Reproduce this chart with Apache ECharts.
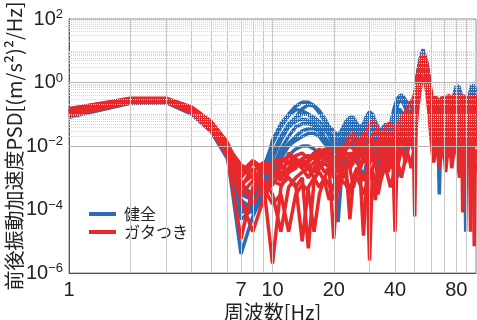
<!DOCTYPE html>
<html>
<head>
<meta charset="utf-8">
<script src="https://cdn.jsdelivr.net/npm/echarts@6/dist/echarts.min.js"></script>
<style>
  html, body { margin: 0; padding: 0; background: #ffffff; }
  #chart { width: 477px; height: 320px; }
</style>
</head>
<body>
<div id="chart"></div>
<script>
// Frequency bins of the PSD estimates [Hz]
const freqHz = [
  1,2,3,4,5,6,7,8,9,10, 11,12,13,14,15,16,17,18,19,20,
  21,22,23,24,25,26,27,28,29,30, 31,32,33,34,35,36,37,38,39,40,
  41,42,43,44,45,46,47,48,49,50, 51,52,53,54,55,56,57,58,59,60,
  61,62,63,64,65,66,67,68,69,70, 71,72,73,74,75,76,77,78,79,80,
  81,82,83,84,85,86,87,88,89,90, 91,92,93,94,95,96,97,98,99,100
];

// 健全 (healthy) runs, longitudinal acceleration PSD [(m/s^2)^2/Hz]
const healthy1 = [
  0.15,0.3,0.3,0.16,0.055,0.011,3e-4,2e-4,1e-3,0.015,
  0.05,0.1,0.18,0.24,0.24,0.19,0.13,0.075,0.04,0.03,
  0.02,0.035,0.06,0.08,0.08,0.05,0.04,0.05,0.09,0.12,
  0.1,0.06,0.04,0.03,0.04,0.05,0.03,0.05,0.1,0.2,
  0.3,0.38,0.4,0.35,0.28,0.25,0.2,0.17,0.25,0.4,
  1.2,2.5,5,8,11,10,5,3,1.2,0.5,
  0.25,0.15,0.3,0.25,0.1,0.05,0.1,0.2,0.25,0.2,
  0.1,0.15,0.3,0.35,0.25,0.12,0.2,0.4,0.6,0.75,
  0.8,0.8,0.7,0.5,0.3,0.15,0.1,0.2,0.35,0.3,
  0.15,0.2,0.4,0.6,0.8,0.9,0.9,0.8,0.6,0.5
];
const healthy2 = [
  0.12,0.28,0.28,0.14,0.045,0.008,1e-4,1.5e-4,6e-4,5e-3,
  0.02,0.05,0.08,0.1,0.1,0.08,0.06,0.04,0.02,0.01,
  5e-3,0.01,0.03,0.05,0.04,0.02,0.01,0.02,0.04,0.06,
  0.05,0.03,0.015,0.01,0.02,0.03,0.02,0.01,0.03,0.08,
  0.12,0.15,0.12,0.08,0.05,0.1,0.08,0.05,0.1,0.25,
  0.8,1.8,3.5,5.5,7,6,3,1.5,0.6,0.25,
  0.12,0.06,0.1,0.2,0.15,0.05,0.02,0.06,0.12,0.1,
  0.04,0.08,0.2,0.25,0.15,0.05,0.03,0.1,0.25,0.4,
  0.5,0.45,0.3,0.15,0.06,0.02,0.05,0.12,0.15,0.08,
  0.03,0.1,0.25,0.4,0.5,0.5,0.4,0.3,0.2,0.15
];
const healthy3 = [
  0.1,0.25,0.26,0.12,0.035,0.005,4e-6,6e-5,3e-4,2e-3,
  8e-3,0.02,0.04,0.05,0.05,0.045,0.03,0.015,6e-3,2e-3,
  4e-5,2e-3,0.01,0.02,0.015,6e-3,2e-3,5e-3,0.015,0.02,
  0.012,4e-3,1e-3,3e-3,8e-3,0.01,5e-3,2e-3,5e-3,0.01,
  1e-3,0.01,0.03,0.05,0.04,0.02,0.01,0.03,0.05,0.15,
  0.5,1.2,2.5,4,5,4,2,0.8,0.3,0.1,
  0.04,0.02,0.04,0.06,0.03,3e-4,0.01,0.03,0.05,0.04,
  0.015,0.03,0.07,0.08,0.05,0.02,0.01,0.04,0.1,0.15,
  0.2,0.18,0.1,0.05,0.02,6e-3,2e-3,0.01,2e-5,0.01,
  0.03,0.05,0.08,0.1,0.12,0.1,0.08,0.05,0.03,0.02
];
const healthy4 = [
  0.13,0.3,0.29,0.15,0.05,0.01,2e-4,1e-4,2e-4,1.5e-3,
  4e-3,0.01,0.015,0.02,0.025,0.025,0.02,0.012,0.01,8e-3,
  0.01,0.015,0.02,0.03,0.03,0.02,0.01,8e-3,0.015,0.03,
  0.035,0.02,8e-3,5e-3,0.01,0.015,0.01,6e-3,0.015,0.04,
  0.06,0.08,0.07,0.04,0.02,0.03,0.05,0.04,0.06,0.2,
  0.6,1.5,3,5,6,5,2.5,1,0.4,0.15,
  0.06,0.03,0.05,0.1,0.08,0.03,0.01,0.04,0.08,0.06,
  0.02,0.04,0.1,0.12,0.08,0.03,0.02,0.06,0.15,0.25,
  0.3,0.25,0.15,0.08,0.04,0.01,0.02,0.05,0.08,0.05,
  0.02,0.05,0.12,0.2,0.25,0.25,0.2,0.12,0.06,0.04
];
const healthy5 = [
  0.08,0.22,0.23,0.1,0.028,0.004,5e-5,1e-4,3e-4,1e-3,
  3e-3,5e-3,8e-3,0.01,0.01,8e-3,6e-3,4e-3,3e-3,2e-3,
  3e-3,6e-3,0.01,0.012,0.01,5e-3,2e-3,1e-3,3e-3,8e-3,
  0.01,6e-3,2e-3,1e-3,3e-3,6e-3,4e-3,2e-3,6e-3,0.015,
  0.025,0.03,0.02,0.01,6e-3,0.01,0.02,0.015,0.03,0.08,
  0.3,0.8,1.5,2.5,3,2.5,1.2,0.5,0.2,0.06,
  0.02,0.01,0.02,0.04,0.03,0.01,4e-3,0.015,0.03,0.025,
  8e-3,0.015,0.04,0.05,0.03,0.01,6e-3,0.02,0.05,0.08,
  0.1,0.08,0.05,0.02,8e-3,3e-3,6e-3,0.02,0.03,0.02,
  6e-3,0.015,0.04,0.06,0.08,0.08,0.06,0.04,0.02,0.015
];
const healthy6 = [
  0.14,0.31,0.3,0.15,0.05,0.009,6e-4,3e-4,2e-3,0.012,
  0.04,0.09,0.14,0.13,0.1,0.06,0.04,0.03,0.025,0.02,
  0.015,0.02,0.03,0.04,0.05,0.035,0.02,0.03,0.06,0.09,
  0.07,0.04,0.02,0.015,0.02,0.03,0.025,0.03,0.06,0.12,
  0.18,0.25,0.28,0.22,0.15,0.1,0.06,0.1,0.15,0.3,
  1,2.2,4.5,7,8.5,7.5,4,2,0.8,0.35,
  0.15,0.1,0.2,0.3,0.2,0.08,0.05,0.12,0.18,0.15,
  0.06,0.1,0.2,0.3,0.2,0.08,0.1,0.25,0.4,0.5,
  0.6,0.6,0.5,0.3,0.15,0.05,0.04,0.1,0.2,0.15,
  0.06,0.12,0.25,0.4,0.6,0.7,0.6,0.5,0.35,0.25
];
const healthy7 = [
  0.11,0.26,0.27,0.13,0.04,0.007,1.5e-4,8e-5,5e-4,4e-3,
  0.015,0.04,0.08,0.15,0.2,0.18,0.11,0.06,0.03,0.015,
  0.01,0.02,0.04,0.06,0.06,0.04,0.03,0.04,0.07,0.1,
  0.08,0.05,0.03,0.02,0.03,0.04,0.03,0.02,0.05,0.1,
  0.2,0.3,0.3,0.25,0.2,0.15,0.1,0.12,0.2,0.35,
  1.1,2.5,5,7.5,9.5,8.5,4.5,2.5,1,0.4,
  0.15,0.08,0.15,0.2,0.15,0.06,0.03,0.08,0.15,0.12,
  0.05,0.08,0.15,0.2,0.12,0.06,0.08,0.2,0.35,0.5,
  0.6,0.55,0.4,0.2,0.1,0.04,0.06,0.15,0.25,0.2,
  0.08,0.15,0.3,0.5,0.7,0.8,0.7,0.5,0.3,0.2
];
const healthy8 = [
  0.12,0.29,0.29,0.14,0.048,0.009,4e-4,2.5e-4,8e-4,6e-3,
  0.02,0.04,0.06,0.07,0.065,0.05,0.035,0.02,0.012,8e-3,
  6e-3,0.012,0.025,0.035,0.03,0.015,8e-3,0.012,0.03,0.05,
  0.04,0.02,0.01,6e-3,0.012,0.02,0.015,8e-3,0.02,0.05,
  0.09,0.12,0.1,0.06,0.03,0.05,0.07,0.05,0.08,0.25,
  0.8,2,4,6,7.5,6.5,3.5,1.5,0.6,0.25,
  0.1,0.05,0.08,0.15,0.12,0.04,0.02,0.05,0.1,0.08,
  0.03,0.06,0.15,0.2,0.12,0.04,0.03,0.08,0.2,0.3,
  0.4,0.35,0.2,0.1,0.05,0.015,0.03,0.08,0.12,0.06,
  0.02,0.08,0.2,0.3,0.4,0.4,0.3,0.2,0.12,0.08
];
const healthy9 = [
  0.09,0.24,0.25,0.11,0.032,0.005,8e-5,1.2e-4,4e-4,2.5e-3,
  6e-3,0.012,0.02,0.03,0.035,0.035,0.028,0.018,0.01,5e-3,
  4e-3,8e-3,0.015,0.02,0.018,0.01,5e-3,6e-3,0.012,0.025,
  0.02,0.01,4e-3,3e-3,6e-3,0.01,8e-3,4e-3,0.01,0.025,
  0.04,0.05,0.04,0.02,0.01,0.02,0.03,0.025,0.04,0.12,
  0.4,1,2,3.5,4.5,4,2,0.8,0.3,0.1,
  0.04,0.02,0.03,0.06,0.05,0.02,8e-3,0.025,0.05,0.04,
  0.012,0.025,0.06,0.08,0.05,0.015,0.01,0.04,0.1,0.15,
  0.18,0.15,0.08,0.04,0.015,5e-3,0.01,0.03,0.05,0.03,
  0.01,0.03,0.07,0.12,0.15,0.15,0.12,0.07,0.04,0.03
];

// ガタつき (loose / rattling) runs
const loose1 = [
  0.15,0.32,0.32,0.17,0.06,0.013,1.5e-3,3.5e-3,2e-3,1e-3,
  2e-3,3e-3,2.5e-3,4e-3,5e-3,4e-3,6e-3,8e-3,6e-3,4e-3,
  5e-3,8e-3,0.012,0.02,0.025,0.015,0.01,0.015,0.03,0.05,
  0.06,0.05,0.03,0.02,0.03,0.04,0.05,0.05,0.04,0.03,
  0.04,0.06,0.08,0.1,0.12,0.15,0.2,0.25,0.3,0.45,
  1,2,4,6.5,8,7.5,5,2.5,1.2,0.6,
  0.35,0.3,0.35,0.4,0.3,0.2,0.25,0.35,0.4,0.3,
  0.2,0.3,0.4,0.45,0.35,0.2,0.25,0.35,0.4,0.45,
  0.4,0.3,0.2,0.3,0.4,0.45,0.35,0.2,0.25,0.35,
  0.4,0.35,0.25,0.3,0.4,0.45,0.4,0.3,0.25,0.3
];
const loose2 = [
  0.12,0.27,0.28,0.14,0.045,0.009,2e-3,1e-3,8e-4,2e-6,
  5e-4,1.5e-3,3e-3,2e-3,1e-3,2e-3,4e-3,5e-3,3e-3,1e-3,
  2e-3,4e-3,6e-3,5e-3,3e-3,4e-3,8e-3,0.01,6e-3,3e-3,
  5e-3,0.01,0.015,0.01,6e-3,8e-3,0.012,0.02,0.025,0.015,
  0.01,0.02,0.04,0.05,0.06,0.04,0.05,0.08,0.1,0.2,
  0.6,1.5,3,5,6,5,3,1.5,0.6,0.25,
  0.12,0.08,0.12,0.2,0.15,0.08,0.1,0.15,0.2,0.15,
  0.08,0.12,0.2,0.25,0.15,0.08,0.1,0.15,0.2,0.25,
  0.2,0.12,0.08,0.12,0.2,0.25,0.15,0.06,0.1,0.2,
  0.25,0.2,0.12,0.15,0.25,0.3,0.25,0.15,0.12,0.15
];
const loose3 = [
  0.1,0.24,0.25,0.12,0.035,0.006,5e-4,2e-3,3e-4,6e-4,
  1.5e-3,1e-3,5e-4,1e-3,6e-6,8e-4,2e-3,3e-3,2e-3,1.2e-5,
  1e-3,2e-3,3e-3,2e-3,5e-4,1.5e-3,3e-3,4e-3,3e-3,2.5e-6,
  2e-3,4e-3,6e-3,4e-3,2e-3,4e-3,6e-3,8e-3,5e-3,2e-5,
  5e-3,0.01,0.015,0.02,0.015,0.01,0.02,0.03,0.05,6e-5,
  0.3,1,2,3.5,4,3.5,2,0.8,0.3,0.1,
  0.05,0.03,0.05,0.08,0.05,0.02,0.03,0.06,0.08,0.06,
  0.02,0.04,0.08,0.1,0.06,0.02,0.03,0.06,0.08,0.1,
  0.08,0.04,0.02,0.04,0.08,0.1,0.06,0.02,0.01,0.05,
  0.08,0.06,0.03,0.05,0.1,0.12,0.1,0.05,0.02,0.04
];
const loose4 = [
  0.13,0.29,0.3,0.15,0.05,0.01,4e-4,3e-4,1e-3,3e-4,
  2e-5,5e-4,1e-3,1.5e-3,2e-3,1e-3,5e-4,1e-3,2e-3,1.5e-3,
  6e-4,1e-3,2e-3,5e-5,1e-3,2e-3,1e-3,1.5e-5,1e-3,3e-3,
  4e-3,3e-3,1e-3,2e-3,4e-3,6e-3,4e-3,2e-3,4e-3,8e-3,
  0.012,0.01,6e-3,0.01,0.02,0.03,0.02,0.01,0.02,0.05,
  0.15,0.5,1.2,2.5,3,2.5,1.5,0.6,0.2,0.06,
  0.02,0.01,0.02,0.04,0.03,0.01,0.015,0.03,0.04,0.02,
  5e-3,0.015,0.03,0.05,0.03,0.01,0.015,0.03,0.05,0.04,
  0.02,0.01,5e-3,0.015,0.03,8e-5,0.02,0.01,0.02,0.04,
  0.05,0.03,0.01,2e-5,0.03,0.05,0.04,0.02,0.01,0.02
];
const loose5 = [
  0.09,0.23,0.24,0.11,0.03,0.005,1.2e-5,5e-4,1.5e-3,2e-3,
  1e-3,2e-3,4e-3,3e-3,2e-3,3e-3,5e-3,6e-3,5e-3,3e-3,
  3e-3,5e-3,8e-3,0.01,8e-3,6e-3,5e-3,8e-3,0.012,0.015,
  0.01,8e-3,0.01,0.015,0.02,0.015,0.01,0.015,0.02,0.015,
  0.02,0.03,0.025,0.03,0.04,0.06,0.1,0.12,0.1,0.15,
  0.5,1.5,3.5,6,7,6,4,2,0.8,0.4,
  0.2,0.15,0.25,0.3,0.2,0.1,0.15,0.25,0.3,0.2,
  0.1,0.2,0.3,0.35,0.25,0.12,0.15,0.25,0.3,0.35,
  0.3,0.2,0.12,0.2,0.3,0.35,0.25,0.12,0.15,0.25,
  0.3,0.25,0.15,0.2,0.3,0.35,0.3,0.2,0.15,0.2
];
const loose6 = [
  0.11,0.26,0.27,0.13,0.04,0.007,8e-4,1.5e-4,5e-4,1.5e-4,
  3e-4,2e-5,3e-4,6e-4,4e-4,2e-5,3e-4,1e-3,6e-4,2e-4,
  4e-4,8e-4,6e-4,3e-4,8e-4,1e-3,6e-4,3e-4,6e-4,1e-3,
  1.5e-3,1e-3,3e-4,8e-4,1.5e-3,2e-3,1e-3,5e-4,1e-3,2e-3,
  3e-3,2e-3,1e-3,2e-3,4e-3,6e-3,4e-3,2e-3,5e-3,0.01,
  0.06,0.2,0.5,1,1.5,1.2,0.6,0.25,0.08,0.02,
  6e-3,3e-3,6e-3,0.01,6e-3,2e-3,4e-3,8e-3,0.01,5e-3,
  1.5e-3,4e-3,8e-3,0.012,6e-3,2e-3,4e-3,8e-3,0.012,0.01,
  5e-3,2e-3,1e-3,3e-3,6e-3,8e-3,4e-3,1.5e-3,3e-3,8e-3,
  0.01,6e-3,2e-3,4e-3,8e-3,0.012,8e-3,3e-3,1.5e-3,3e-3
];
const loose7 = [
  0.14,0.3,0.31,0.16,0.055,0.011,1e-3,3e-3,1.5e-3,3e-3,
  4e-3,3e-3,5e-3,6e-3,4e-3,6e-3,8e-3,6e-3,4e-3,6e-3,
  8e-3,0.01,8e-3,0.012,0.015,0.01,0.015,0.025,0.02,0.015,
  0.02,0.03,0.025,0.015,0.012,0.02,0.03,0.025,0.02,0.03,
  0.05,0.04,0.03,0.05,0.08,0.1,0.08,0.06,0.12,0.25,
  0.8,2,4,6,7.5,6.5,4,2,1,0.45,
  0.25,0.2,0.3,0.25,0.15,0.2,0.3,0.25,0.15,0.2,
  0.3,0.35,0.25,0.15,0.2,0.3,0.4,0.3,0.2,0.25,
  0.35,0.4,0.35,0.25,0.15,0.2,0.3,0.4,0.35,0.25,
  0.15,0.2,0.35,0.4,0.3,0.2,0.15,0.25,0.35,0.4
];
const loose8 = [
  0.1,0.25,0.26,0.12,0.038,0.006,2e-4,2e-5,2e-4,8e-4,
  6e-4,1e-3,6e-4,1e-5,5e-4,1e-3,1.5e-3,8e-4,2e-4,6e-4,
  1e-3,1.5e-3,1e-3,4e-4,1e-3,2e-3,1.5e-3,8e-4,1.5e-3,2e-3,
  1e-3,2e-4,1e-3,3e-3,5e-3,3e-3,1.5e-3,3e-3,6e-3,4e-3,
  2e-3,4e-3,8e-3,6e-3,3e-3,6e-3,0.012,0.015,8e-3,0.03,
  0.12,0.4,1,2,2.5,2,1,0.4,0.12,0.04,
  0.012,6e-3,0.012,0.02,0.015,5e-3,8e-3,0.015,0.02,0.01,
  3e-3,6e-3,0.015,0.02,0.01,4e-3,8e-3,0.015,0.02,0.015,
  6e-3,3e-3,6e-3,0.012,0.015,0.01,4e-3,2e-3,6e-3,0.012,
  0.015,8e-3,3e-3,6e-3,0.012,0.015,0.01,7e-6,4e-3,8e-3
];
const loose9 = [
  0.12,0.28,0.29,0.14,0.048,0.0085,3e-4,8e-4,2.5e-3,1.5e-3,
  8e-4,6e-3,4e-3,2e-3,3e-3,5e-3,3e-3,1.5e-3,2e-3,4e-3,
  3e-3,1.5e-3,3e-3,6e-3,5e-3,3e-3,2e-3,4e-3,6e-3,8e-3,
  5e-3,3e-3,5e-3,8e-3,6e-3,4e-3,8e-3,0.012,0.01,6e-3,
  8e-3,0.015,0.02,0.015,0.01,0.02,0.03,0.02,0.04,0.1,
  0.35,1,2.5,4,5,4.5,2.5,1,0.4,0.15,
  0.08,0.05,0.08,0.1,0.06,0.04,0.06,0.1,0.08,0.05,
  0.03,0.06,0.1,0.12,0.08,0.04,0.05,0.08,0.12,0.1,
  0.06,0.03,0.04,0.08,0.1,0.06,0.03,0.04,0.08,0.1,
  0.08,0.04,0.03,0.06,0.1,0.12,0.08,0.04,0.03,0.05
];
const loose10 = [
  0.11,0.27,0.27,0.13,0.042,0.008,6e-4,1.2e-3,4e-4,1e-3,
  2.5e-3,1.5e-3,2e-3,4e-3,2.5e-3,1.5e-3,2.5e-3,4e-3,8e-3,5e-3,
  2e-3,1e-3,2e-3,3e-3,6e-3,0.01,6e-3,3e-3,5e-3,0.01,
  0.015,0.012,8e-3,0.01,0.015,0.025,0.02,0.012,0.015,0.01,
  0.015,0.025,0.015,0.02,0.035,0.05,0.04,0.03,0.06,0.15,
  0.45,1.2,3,5,6.5,5.5,3,1.2,0.5,0.2,
  0.1,0.06,0.15,0.1,0.05,0.08,0.12,0.08,0.05,0.08,
  0.12,0.15,0.1,0.05,0.08,0.12,0.15,0.1,0.06,0.1,
  0.15,0.12,0.06,0.04,0.08,0.12,0.1,0.06,0.08,0.12,
  0.15,0.1,0.06,0.1,0.15,0.18,0.12,0.06,0.08,0.12
];
const loose11 = [
  0.13,0.3,0.3,0.155,0.052,0.01,2.5e-3,1.5e-3,3e-3,2.5e-3,
  3e-3,5e-3,3.5e-3,2.5e-3,3.5e-3,5e-3,7e-3,5e-3,3e-3,2e-3,
  4e-3,6e-3,4e-3,2e-3,3e-3,6e-3,0.01,0.012,8e-3,5e-3,
  8e-3,0.012,0.01,6e-3,8e-3,0.012,0.015,0.01,6e-3,0.01,
  0.02,0.03,0.02,0.015,0.025,0.04,0.06,0.05,0.07,0.2,
  0.7,1.8,3.5,5.5,6.5,6,3.5,1.8,0.8,0.3,
  0.15,0.12,0.2,0.15,0.08,0.12,0.2,0.15,0.1,0.12,
  0.2,0.25,0.15,0.08,0.12,0.2,0.25,0.2,0.12,0.15,
  0.25,0.3,0.2,0.1,0.06,0.1,0.2,0.25,0.2,0.12,
  0.08,0.12,0.2,0.25,0.2,0.12,0.08,0.15,0.2,0.25
];

const healthyRuns = [healthy1, healthy2, healthy3, healthy4, healthy5, healthy6, healthy7, healthy8, healthy9];
const looseRuns = [loose1, loose2, loose3, loose4, loose5, loose6, loose7, loose8, loose9, loose10, loose11];

// Axis ticks and grid positions
const xTickValues = [1, 7, 10, 20, 40, 80];
const yTickValues = [1e-6, 1e-4, 1e-2, 1, 100];
const xGridValues = [2, 3, 4, 5, 6, 7, 8, 9, 10, 20, 30, 40, 50, 60, 70, 80, 90];
const yMajorGridValues = [1e-4, 1e-2, 1];
const yDecades = [1e-6, 1e-5, 1e-4, 1e-3, 1e-2, 1e-1, 1, 10];
const yMinorSteps = [1, 2, 3, 4, 5, 6, 7, 8, 9];

const BLUE = '#2a6db5';
const RED = '#e8292c';
const NUM_FONT = "'Liberation Sans Narrow', 'Liberation Sans', Arial, sans-serif";
const JP_FONT = "'Noto Sans CJK JP', 'Noto Sans', sans-serif";

const yMinorGridValues = [];
yDecades.forEach(d => yMinorSteps.forEach(m => {
  const v = m * d;
  const isMajor = yMajorGridValues.some(g => Math.abs(g - v) / g < 1e-9);
  const isEdge = Math.abs(v - 1e-6) / 1e-6 < 1e-9;
  if (!isMajor && !isEdge) yMinorGridValues.push(v);
}));

function psdSeries(name, color, values) {
  return {
    name: name,
    type: 'line',
    data: freqHz.map((f, i) => [f, values[i]]),
    showSymbol: false,
    symbol: 'none',
    color: color,
    itemStyle: { color: color },
    lineStyle: { color: color, width: 3.5 },
    silent: true,
    animation: false,
    z: 3
  };
}

const gridLineData = []
  .concat(xGridValues.map(v => ({ xAxis: v, lineStyle: { color: '#c9c9c9', width: 1, type: 'solid' } })))
  .concat(yMinorGridValues.map(v => ({ yAxis: v, lineStyle: { color: '#d4d4d4', width: 1, type: [1, 1] } })))
  .concat(yMajorGridValues.map(v => ({ yAxis: v, lineStyle: { color: '#b4b4b4', width: 1, type: 'solid' } })));

const series = [{
  type: 'line',
  data: [],
  silent: true,
  z: 1,
  markLine: {
    silent: true,
    symbol: ['none', 'none'],
    label: { show: false },
    animation: false,
    data: gridLineData
  }
}]
  .concat(healthyRuns.map(v => psdSeries('健全', BLUE, v)))
  .concat(looseRuns.map(v => psdSeries('ガタつき', RED, v)));

const chart = echarts.init(document.getElementById('chart'), null, { renderer: 'canvas' });
chart.setOption({
  backgroundColor: '#ffffff',
  animation: false,
  grid: {
    left: 69, right: 1, top: 19, bottom: 47,
    outerBoundsMode: 'none',
    containLabel: false,
    show: true, borderColor: '#8a8a8a', borderWidth: 1, backgroundColor: '#ffffff'
  },
  legend: {
    data: ['健全', 'ガタつき'],
    orient: 'vertical',
    left: 84, top: 201,
    icon: 'rect',
    itemWidth: 27, itemHeight: 4,
    itemGap: 2,
    selectedMode: false,
    textStyle: { fontFamily: JP_FONT, fontSize: 16, color: '#222', padding: [0, 0, 0, 3], lineHeight: 16 }
  },
  xAxis: {
    type: 'log',
    logBase: 10,
    min: 1,
    max: 100,
    name: '周波数[Hz]',
    nameLocation: 'middle',
    nameGap: 29,
    nameMoveOverlap: false,
    nameTextStyle: { fontFamily: JP_FONT, fontSize: 20, color: '#222' },
    axisLine: { show: true, lineStyle: { color: '#555', width: 1 } },
    axisTick: { show: false },
    splitLine: { show: false },
    axisLabel: {
      customValues: xTickValues,
      fontFamily: NUM_FONT,
      fontSize: 20,
      color: '#222',
      margin: 7,
      formatter: v => String(Math.round(v))
    }
  },
  yAxis: {
    type: 'log',
    logBase: 10,
    min: 1e-6,
    max: 100,
    name: '前後振動加速度PSD[(m/s²)²/Hz]',
    nameLocation: 'middle',
    nameGap: 45,
    nameRotate: 90,
    nameMoveOverlap: false,
    nameTextStyle: { fontFamily: JP_FONT, fontSize: 20, color: '#222' },
    axisLine: { show: true, lineStyle: { color: '#555', width: 1 } },
    axisTick: { show: false },
    splitLine: { show: false },
    axisLabel: {
      customValues: yTickValues,
      margin: 6,
      formatter: v => '{b|10}{s|' + String(Math.round(Math.log10(v))).replace('-', '−') + '}',
      rich: {
        b: { fontFamily: NUM_FONT, fontSize: 20, color: '#222', lineHeight: 22 },
        s: { fontFamily: NUM_FONT, fontSize: 13, color: '#222', lineHeight: 13, verticalAlign: 'top' }
      }
    }
  },
  series: series
});
</script>
</body>
</html>
